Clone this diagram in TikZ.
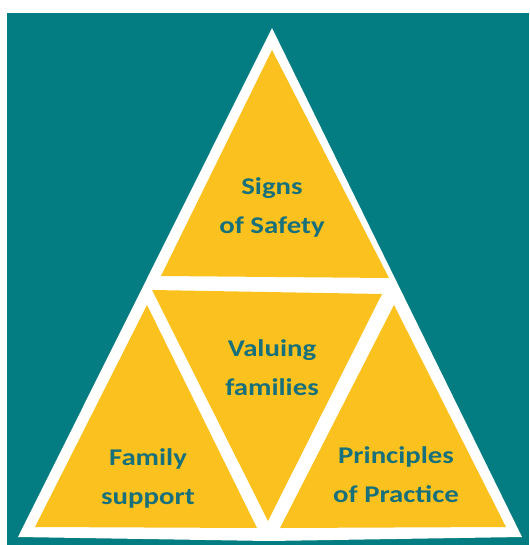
\documentclass[tikz,border=0pt]{standalone}
\usepackage{fontspec}
\setmainfont{Carlito}
\usepackage{tikz}
\definecolor{teal}{HTML}{037D81}
\definecolor{tealtext}{HTML}{17707A}
\definecolor{gold}{HTML}{FBC21F}

\begin{document}
\begin{tikzpicture}[x=1pt, y=-1pt, part/.style={fill=gold}, label/.style={text=tealtext, font=\fontsize{24}{39}\selectfont\bfseries, align=center, xscale=1.2}]
	\useasboundingbox (0, 0) rectangle (529, 545);
	\fill[white] (0, 0) rectangle (529, 545);
	\fill[teal] (7, 13) rectangle (529, 545);

	\fill[white] (272, 28) -- (18, 537) -- (269, 541) -- (522, 537) -- cycle;
	\fill[part] (272, 50) -- (161, 276) -- (389, 278) -- cycle;
	\fill[part] (152, 290) -- (382, 294) -- (268, 521) -- cycle;
	\fill[part] (147, 305) -- (35, 527) -- (257, 528) -- cycle;
	\fill[part] (394, 305) -- (280, 528) -- (506, 527) -- cycle;

	\node[label] (signs) at (272, 207) {Signs\\of Safety};
	\node[label] (valuing) at (272, 368) {Valuing\\families};
	\node[label] (support) at (148, 478) {Family\\support};
	\node[label] (principles) at (396, 475) {Principles\\of Practice};
\end{tikzpicture}
\end{document}
